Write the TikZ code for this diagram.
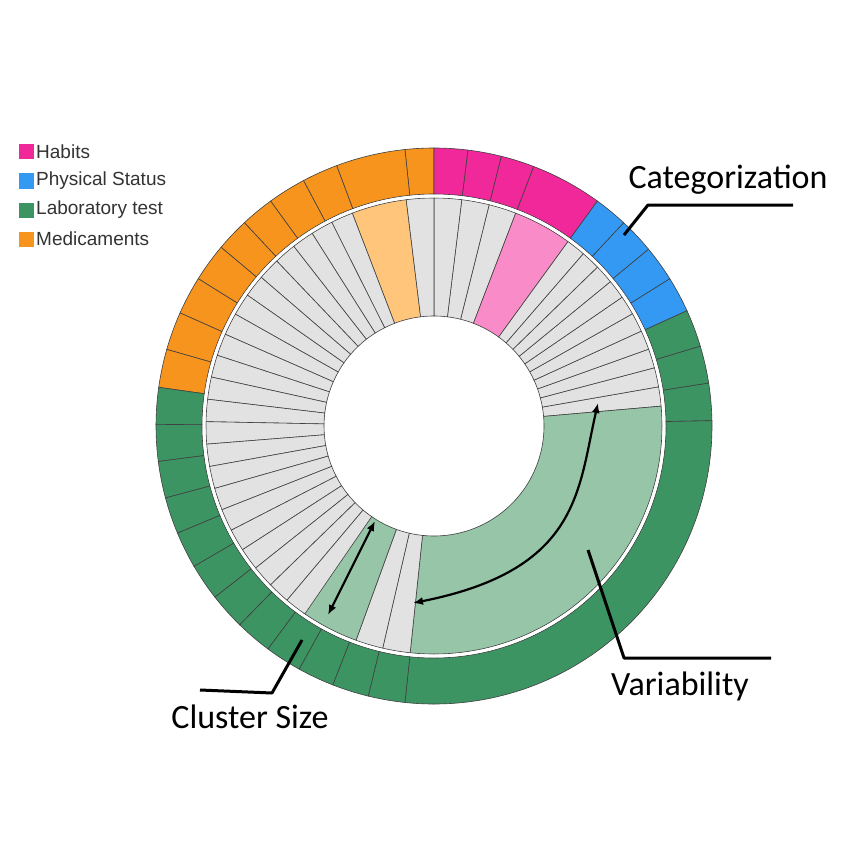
\documentclass[tikz,border=0pt]{standalone}
\usepackage{fontspec}
\setmainfont{Carlito}
\newfontfamily\legfont{Liberation Sans}
\usetikzlibrary{arrows.meta}
\definecolor{cOr}{HTML}{F7941D}
\definecolor{cOrL}{HTML}{FFC57A}
\definecolor{cPk}{HTML}{F0289A}
\definecolor{cPkL}{HTML}{F98CC8}
\definecolor{cBl}{HTML}{3399F3}
\definecolor{cGr}{HTML}{3D9463}
\definecolor{cGrL}{HTML}{97C5A8}
\definecolor{cGy}{HTML}{E2E2E2}
\definecolor{cLn}{HTML}{404040}
\newcommand{\sgm}[5]{\filldraw[fill=#5,draw=cLn,line width=0.6pt] (#1:#3) -- (#1:#4) arc[start angle=#1,end angle=#2,radius=#4] -- (#2:#3) arc[start angle=#2,end angle=#1,radius=#3] -- cycle;}
\tikzset{lead/.style={line width=3pt,line join=round},
 arr/.style={line width=2.2pt,{Latex[length=10pt,width=8pt]}-{Latex[length=10pt,width=8pt]}},
 lab/.style={font=\fontsize{34}{38}\selectfont,anchor=center},
 legtxt/.style={font=\legfont\fontsize{19}{22}\selectfont,text=black!80,anchor=west,inner sep=0pt},
 legbox/.style={minimum size=15pt,inner sep=0pt}}
\begin{document}
\begin{tikzpicture}[x=1pt,y=-1pt]
\useasboundingbox (0,0) rectangle (853,853);
\fill[white] (0,0) rectangle (853,853);
\begin{scope}[shift={(434,426)},yscale=-1]
% outer ring
\def\ro{278}\def\ri{232}
\foreach \a/\b in {90/96,96/110.5,110.5/118,118/126,126/133,133/140,140/148,148/156,156/164,164/172}{\sgm{\a}{\b}{\ri}{\ro}{cOr}}
\foreach \a/\b in {54/69,69/76,76/83,83/90}{\sgm{\a}{\b}{\ri}{\ro}{cPk}}
\foreach \a/\b in {24.5/32,32/39.5,39.5/47,47/54}{\sgm{\a}{\b}{\ri}{\ro}{cBl}}
\foreach \a/\b in {1.1/8.9,8.9/16.7,16.7/24.5}{\sgm{\a}{\b}{\ri}{\ro}{cGr}}
\sgm{-96}{1.1}{\ri}{\ro}{cGr}
\foreach \k in {0,...,11}{\pgfmathsetmacro\aa{172+7.667*\k}\pgfmathsetmacro\bb{172+7.667*(\k+1)}\sgm{\aa}{\bb}{\ri}{\ro}{cGr}}
% inner ring
\def\Ro{228}\def\Ri{110}
\sgm{97}{111}{\Ri}{\Ro}{cOrL}
\foreach \a/\b in {69/76,76/83,83/90,90/97}{\sgm{\a}{\b}{\Ri}{\Ro}{cGy}}
\sgm{54}{69}{\Ri}{\Ro}{cPkL}
\foreach \k in {0,...,9}{\pgfmathsetmacro\aa{5+4.9*\k}\pgfmathsetmacro\bb{5+4.9*(\k+1)}\sgm{\aa}{\bb}{\Ri}{\Ro}{cGy}}
\sgm{-96}{5}{\Ri}{\Ro}{cGrL}
\sgm{-103}{-96}{\Ri}{\Ro}{cGy}
\sgm{-110}{-103}{\Ri}{\Ro}{cGy}
\sgm{-125}{-110}{\Ri}{\Ro}{cGrL}
\foreach \k in {0,...,21}{\pgfmathsetmacro\aa{111+5.659*\k}\pgfmathsetmacro\bb{111+5.659*(\k+1)}\sgm{\aa}{\bb}{\Ri}{\Ro}{cGy}}
\draw[white,line width=2.5pt] (0,0) circle[radius=230];
\end{scope}
% legend
\node[legbox,fill=cPk] (l1) at (26,152) {};
\node[legbox,fill=cBl] (l2) at (26,181) {};
\node[legbox,fill=cGr] (l3) at (26,210) {};
\node[legbox,fill=cOr] (l4) at (26,239) {};
\node[legtxt] (t1) at (36,152) {Habits};
\node[legtxt] (t2) at (36,181) {Physical Status};
\node[legtxt] (t3) at (36,210) {Laboratory test};
\node[legtxt] (t4) at (36,239) {Medicaments};
% labels
\node[lab] (cat) at (728,180) {Categorization};
\node[lab] (var) at (680,686) {Variability};
\node[lab] (cls) at (250,717) {Cluster Size};
\coordinate (c1) at (793,205); \coordinate (c2) at (648,205); \coordinate (c3) at (624,235);
\draw[lead] (c1) -- (c2) -- (c3);
\coordinate (v1) at (771,658); \coordinate (v2) at (624,658); \coordinate (v3) at (588,550);
\draw[lead] (v1) -- (v2) -- (v3);
\coordinate (s1) at (200,690); \coordinate (s2) at (272,693); \coordinate (s3) at (302,640);
\draw[lead] (s1) -- (s2) -- (s3);
\coordinate (a1) at (375,521); \coordinate (a2) at (328,615);
\draw[arr] (a1) -- (a2);
\coordinate (b1) at (598,403); \coordinate (b2) at (413,603);
\draw[arr] (b1) .. controls (578,490) and (580,570) .. (b2);
\end{tikzpicture}
\end{document}
